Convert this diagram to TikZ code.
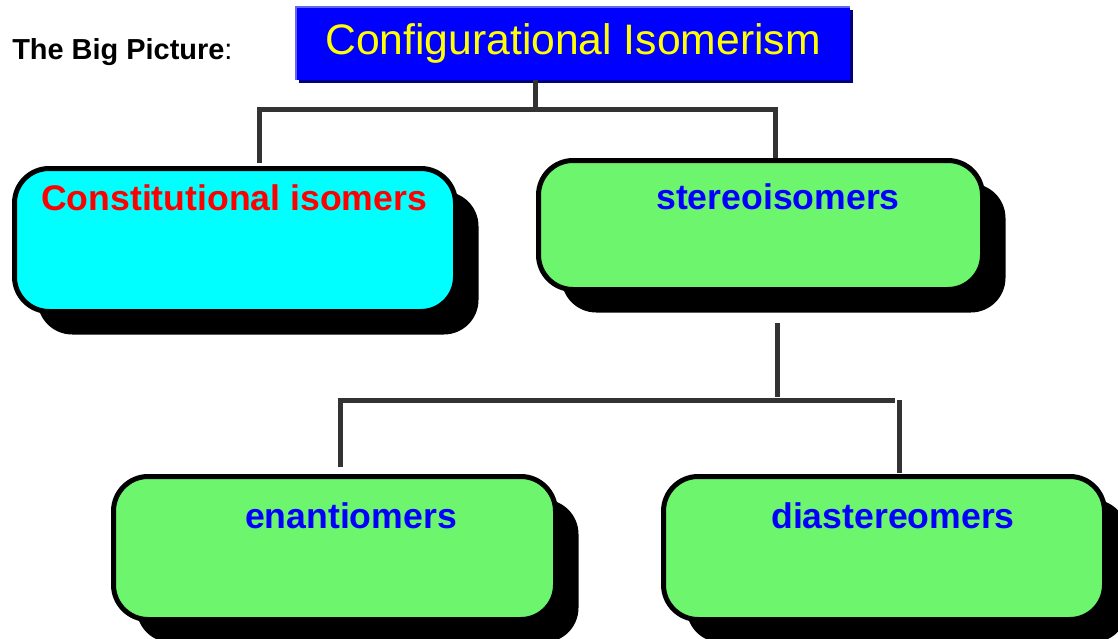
\documentclass[tikz,border=0pt]{standalone}
\usepackage{fontspec}
\setmainfont{Liberation Sans}
\usetikzlibrary{shadows}
\definecolor{conncol}{RGB}{51,51,51}
\definecolor{boxgreen}{RGB}{110,245,110}
\definecolor{boxcyan}{RGB}{0,255,255}
\definecolor{titleblue}{RGB}{0,0,255}
\definecolor{titleedge}{RGB}{100,100,245}
\definecolor{titleshade}{RGB}{0,0,128}
\definecolor{titletext}{RGB}{255,255,0}
\begin{document}
\begin{tikzpicture}[x=0.75pt,y=-0.75pt,
  conn/.style={draw=conncol,line width=3.75pt},
  isobox/.style={draw=black,line width=3.75pt,rounded corners=26pt,
    inner sep=0pt,outer sep=0pt,
    drop shadow={shadow xshift=17.25pt,shadow yshift=-17.25pt,opacity=1,fill=black}},
  greenbox/.style={isobox,fill=boxgreen},
  cyanbox/.style={isobox,fill=boxcyan},
  lab/.style={font=\bfseries\fontsize{26.7}{32}\selectfont,anchor=base,inner sep=0pt},
  titlebox/.style={fill=titleblue,inner sep=0pt,outer sep=0pt,
    minimum width=415.5pt,minimum height=54.75pt,
    drop shadow={shadow xshift=2.25pt,shadow yshift=-2.25pt,opacity=1,fill=titleshade},
    text=titletext,font=\fontsize{32}{36}\selectfont}
]
\useasboundingbox (0,0) rectangle (1118,639);

% title
\node[titlebox] (title) at (573,43.5) {Configurational Isomerism};
\draw[titleedge,line width=1.5pt] (title.south west) -- (title.north west) -- (title.north east);
\node[anchor=base west,inner sep=0pt,font=\fontsize{21.7}{26}\selectfont] (big) at (12,59) {\textbf{The Big Picture}:};

% boxes
\node[cyanbox,minimum width=330.75pt,minimum height=107.25pt] (con) at (235,240) {};
\node[greenbox,minimum width=333pt,minimum height=96.75pt] (ste) at (760.5,225) {};
\node[greenbox,minimum width=331.5pt,minimum height=107.25pt] (ena) at (334.5,548) {};
\node[greenbox,minimum width=330.75pt,minimum height=107.25pt] (dia) at (884,548) {};

% labels
\node[lab,text=red] (conL) at (234,210) {Constitutional isomers};
\node[lab,text=blue] (steL) at (778,209) {stereoisomers};
\node[lab,text=blue] (enaL) at (351,528) {enantiomers};
\node[lab,text=blue] (diaL) at (893,528) {diastereomers};

% junction coordinates
\coordinate (t1) at (535,109);
\coordinate (c1) at (259,109);
\coordinate (c2) at (775,109);
\coordinate (s1) at (777,397);
\coordinate (e1) at (340,400);
\coordinate (d1) at (895,400);
\coordinate (d2) at (899.5,400);

% connectors
\draw[conn] (title.south -| t1) -- (t1);
\draw[conn,shorten <=4pt,shorten >=2pt] (con.north -| c1) -- (c1) -- (c2) -- (ste.north -| c2);
\draw[conn,shorten <=25pt] (ste.south -| s1) -- (s1);
\draw[conn,shorten <=7pt] (ena.north -| e1) -- (e1) -- (d1);
\draw[conn,shorten >=2.6pt] (d2) -- (dia.north -| d2);
\end{tikzpicture}
\end{document}
